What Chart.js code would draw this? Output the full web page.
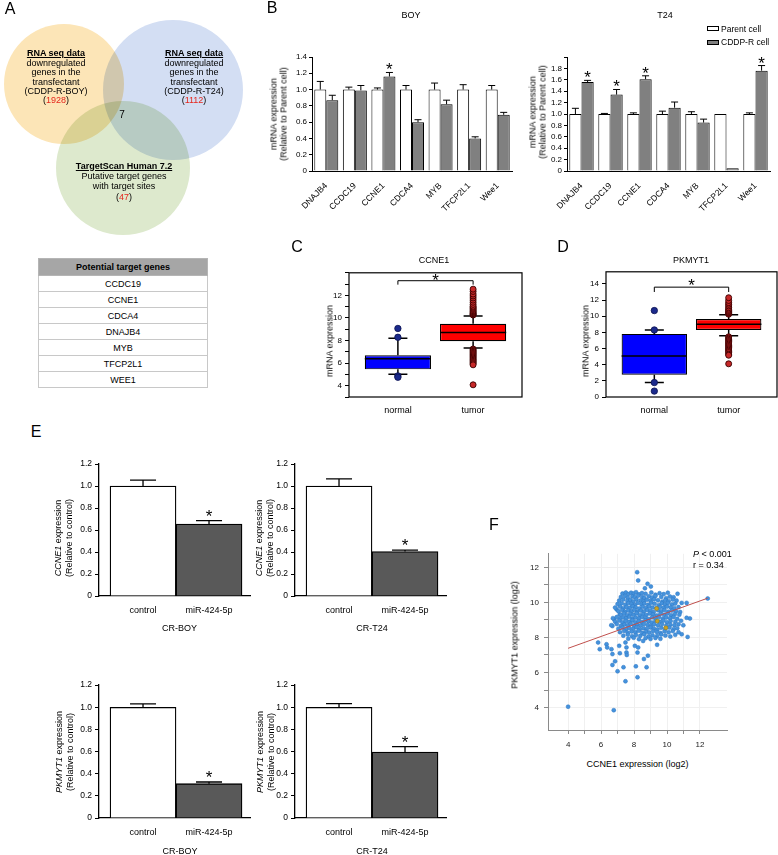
<!DOCTYPE html>
<html lang="en">
<head>
<meta charset="UTF-8" />
<title>miR-424-5p targets: CCNE1 and PKMYT1</title>
<script src="https://cdn.jsdelivr.net/npm/chart.js"></script>
<style>
  html, body { margin: 0; padding: 0; background: #fff; overflow: hidden; }
  #fig {
    position: relative; width: 778px; height: 855px; overflow: hidden;
    font-family: "Liberation Sans", Arial, sans-serif; color: #000;
  }
  #fig canvas { position: absolute; }
  .t { position: absolute; white-space: nowrap; line-height: 1; font-size: 9px; transform: translate(-50%, -50%); }
  .l { position: absolute; white-space: nowrap; line-height: 1; font-size: 9px; transform: translateY(-50%); }
  .letter { font-size: 16px; }
  .rot { text-align: center; transform: translate(-50%, -50%) rotate(-90deg); }
  .venn { position: absolute; transform: translateX(-50%); text-align: center; font-size: 9px; white-space: nowrap; }
  .venn b { text-decoration: underline; }
  .red { color: #e5261c; }
  .key { position: absolute; width: 10px; height: 3px; border: 1px solid #000; }
  #genes {
    position: absolute; left: 38px; top: 258px; width: 170px;
    border-collapse: collapse; font-size: 9px; text-align: center;
  }
  #genes th { background: #a6a6a6; height: 16px; padding: 0; border: 1px solid #b5b5b5; }
  #genes td { height: 15px; padding: 0; border: 1px solid #c8c8c8; }
</style>
</head>
<body>
<div id="fig">
  <canvas id="venn"></canvas>
  <canvas id="boy"></canvas>
  <canvas id="t24"></canvas>
  <canvas id="boxCcne1"></canvas>
  <canvas id="boxPkmyt1"></canvas>
  <canvas id="e1"></canvas>
  <canvas id="e2"></canvas>
  <canvas id="e3"></canvas>
  <canvas id="e4"></canvas>
  <canvas id="corr"></canvas>

  <div class="t letter" style="left:10px;top:8.5px">A</div>
  <div class="t letter" style="left:272px;top:8px">B</div>
  <div class="t letter" style="left:297px;top:247px">C</div>
  <div class="t letter" style="left:563px;top:247px">D</div>
  <div class="t letter" style="left:36px;top:432px">E</div>
  <div class="t letter" style="left:494px;top:525px">F</div>

  <div id="vennText"></div>
  <table id="genes"><thead><tr><th>Potential target genes</th></tr></thead><tbody></tbody></table>

  <div class="t" style="left:411px;top:14.5px">BOY</div>
  <div class="t" style="left:665px;top:14.5px">T24</div>
  <div class="t rot" style="left:279px;top:114px;line-height:9.5px">mRNA expression<br>(Relative to Parent cell)</div>
  <div class="t rot" style="left:538px;top:112px;line-height:9.5px">mRNA expression<br>(Relative to Parent cell)</div>
  <div class="key" style="left:707px;top:26px;background:#fff"></div>
  <div class="key" style="left:707px;top:40px;background:#808080"></div>
  <div class="l" style="left:721px;top:28.5px;font-size:8.5px">Parent cell</div>
  <div class="l" style="left:721px;top:42px;font-size:8.5px">CDDP-R cell</div>

  <div class="t" style="left:434px;top:259.5px">CCNE1</div>
  <div class="t" style="left:691px;top:259.5px">PKMYT1</div>
  <div class="t rot" style="left:329.5px;top:341px">mRNA expression</div>
  <div class="t rot" style="left:585.5px;top:341px">mRNA expression</div>

  <div class="t rot" style="left:63px;top:538px;line-height:10.5px"><i>CCNE1</i> expression<br>(Relative to control)</div>
  <div class="t rot" style="left:264px;top:538px;line-height:10.5px"><i>CCNE1</i> expression<br>(Relative to control)</div>
  <div class="t rot" style="left:64px;top:752px;line-height:10.5px"><i>PKMYT1</i> expression<br>(Relative to control)</div>
  <div class="t rot" style="left:265px;top:752px;line-height:10.5px"><i>PKMYT1</i> expression<br>(Relative to control)</div>
  <div class="t" style="left:179.5px;top:628.3px">CR-BOY</div>
  <div class="t" style="left:372px;top:628.3px">CR-T24</div>
  <div class="t" style="left:180px;top:851px">CR-BOY</div>
  <div class="t" style="left:372px;top:851px">CR-T24</div>

  <div class="t rot" style="left:515px;top:635px">PKMYT1 expression (log2)</div>
  <div class="t" style="left:637.5px;top:764px">CCNE1 expression (log2)</div>
  <div class="l" style="left:693px;top:554px"><i>P</i> &lt; 0.001</div>
  <div class="l" style="left:693px;top:564.5px">r = 0.34</div>
</div>

<script>
  // ---- A: Venn counts and candidate list ----
  const vennCounts = [1928, 1112, 47];
  const vennOverlap = 7;
  const targetGenes = ['CCDC19', 'CCNE1', 'CDCA4', 'DNAJB4', 'MYB', 'TFCP2L1', 'WEE1'];

  // ---- B: qRT-PCR, parent vs CDDP-resistant cells ----
  const genes = ['DNAJB4', 'CCDC19', 'CCNE1', 'CDCA4', 'MYB', 'TFCP2L1', 'Wee1'];
  const boyParent = [1.0, 1.0, 1.0, 1.0, 1.0, 1.0, 1.0];
  const boyParentErr = [0.10, 0.03, 0.02, 0.05, 0.08, 0.06, 0.05];
  const boyResistant = [0.87, 0.99, 1.16, 0.60, 0.82, 0.40, 0.69];
  const boyResistantErr = [0.06, 0.06, 0.05, 0.03, 0.05, 0.02, 0.03];
  const boySig = [false, false, true, false, false, false, false];
  const t24Parent = [1.0, 1.0, 1.0, 1.0, 1.0, 1.0, 1.0];
  const t24ParentErr = [0.10, 0.01, 0.02, 0.05, 0.04, 0, 0.02];
  const t24Resistant = [1.56, 1.34, 1.61, 1.11, 0.85, 0.05, 1.76];
  const t24ResistantErr = [0.03, 0.09, 0.06, 0.10, 0.06, 0, 0.09];
  const t24Sig = [true, true, true, false, false, false, true];

  // ---- C, D: TCGA box plots ----
  const boxGroups = ['normal', 'tumor'];
  const ccne1Q1 = [5.45, 7.94];
  const ccne1Median = [6.38, 8.72];
  const ccne1Q3 = [6.70, 9.48];
  const ccne1WhiskLow = [5.01, 7.33];
  const ccne1WhiskHigh = [8.20, 10.17];
  const ccne1OutNormal = [9.07, 8.29, 4.87, 4.75];
  const ccne1OutTumor = [10.26, 10.32, 10.38, 10.46, 10.55, 10.64, 10.75, 10.85, 10.95, 11.04, 11.20,
    11.39, 11.58, 11.77, 11.95, 12.12, 12.35, 12.55, 7.25, 7.15, 7.05, 6.95, 6.85, 6.75, 6.65, 6.55,
    6.45, 6.35, 6.25, 6.15, 6.05, 5.95, 5.85, 4.08];
  const pkmyt1Q1 = [2.77, 8.30];
  const pkmyt1Median = [5.09, 9.00];
  const pkmyt1Q3 = [7.81, 9.65];
  const pkmyt1WhiskLow = [1.79, 7.57];
  const pkmyt1WhiskHigh = [8.30, 10.17];
  const pkmyt1OutNormal = [10.70, 8.30, 1.79, 0.73];
  const pkmyt1OutTumor = [10.25, 10.35, 10.45, 10.58, 10.72, 10.87, 11.05, 11.27, 11.48, 11.68, 11.95,
    12.29, 7.45, 7.30, 7.15, 7.00, 6.85, 6.70, 6.55, 6.40, 6.25, 6.10, 5.95, 5.80, 5.65, 5.50, 5.30,
    5.17, 4.11];

  // ---- E: knockdown by miR-424-5p ----
  const treatments = ['control', 'miR-424-5p'];
  const ccne1Boy = [1.0, 0.655];
  const ccne1BoyErr = [0.055, 0.03];
  const ccne1T24 = [1.0, 0.405];
  const ccne1T24Err = [0.065, 0.012];
  const pkmyt1Boy = [1.0, 0.31];
  const pkmyt1BoyErr = [0.03, 0.015];
  const pkmyt1T24 = [1.0, 0.595];
  const pkmyt1T24Err = [0.032, 0.05];
  const knockdownSig = [false, true];

  // ---- F: CCNE1 vs PKMYT1 (log2) ----
  const fitLine = [[4.0, 7.38], [12.47, 10.24]];
  const highlighted = [[9.37, 9.65], [9.41, 8.93], [9.93, 8.55]];
  const ccne1VsPkmyt1 = [
    [4.00, 4.05], [6.77, 3.85], [7.48, 5.50], [8.21, 5.73], [7.00, 6.07], [6.69, 6.43], [6.85, 6.64],
    [7.36, 6.30], [8.11, 6.35], [8.76, 6.30], [8.60, 6.77], [8.84, 6.96], [5.82, 7.71], [5.92, 7.33],
    [6.33, 7.61], [6.37, 7.43], [6.63, 7.33], [6.69, 7.05], [7.10, 7.52], [7.14, 7.10], [7.54, 7.43],
    [7.48, 7.71], [7.54, 7.14], [7.56, 7.00], [8.05, 7.52], [8.25, 7.43], [8.21, 7.14], [8.55, 7.80],
    [9.40, 7.58], [8.19, 11.72], [8.25, 11.25], [8.82, 11.06], [9.02, 10.90], [8.66, 10.80],
    [12.47, 10.22], [11.19, 9.97], [10.89, 9.97], [11.39, 9.08], [11.19, 9.12], [11.25, 8.03],
    [10.89, 8.18], [10.99, 8.69], [10.64, 10.49], [6.69, 8.65], [6.79, 9.03], [6.94, 9.60], [7.14, 9.31],
    [7.30, 10.50], [7.50, 10.56], [7.66, 10.47], [7.82, 10.55], [7.98, 10.51], [8.12, 10.58], [8.30, 10.46],
    [8.48, 10.53], [8.70, 10.49], [9.05, 10.56], [9.30, 10.44], [9.55, 10.52], [9.80, 10.47], [10.05, 10.55],
    [7.20, 10.30], [7.45, 10.36], [7.62, 10.27], [7.90, 10.34], [8.05, 10.29], [8.25, 10.38], [8.50, 10.31],
    [8.62, 10.25], [8.90, 10.35], [9.10, 10.28], [9.30, 10.37], [9.65, 10.30], [9.95, 10.24], [10.18, 10.33],
    [10.40, 10.29],
    [7.10, 10.10], [7.35, 10.16], [7.60, 10.08], [7.78, 10.14], [7.95, 10.05], [8.15, 10.17], [8.40, 10.11],
    [8.58, 10.06], [8.78, 10.15], [9.00, 10.09], [9.22, 10.18], [9.45, 10.12], [9.72, 10.04], [9.90, 10.13],
    [10.10, 10.07], [10.35, 10.16], [10.58, 10.10],
    [7.00, 9.90], [7.25, 9.95], [7.48, 9.87], [7.66, 9.96], [7.85, 9.91], [8.05, 9.85], [8.22, 9.97],
    [8.45, 9.89], [8.62, 9.94], [8.85, 9.86], [9.05, 9.98], [9.25, 9.92], [9.50, 9.84], [9.68, 9.95],
    [9.88, 9.89], [10.05, 9.97], [10.30, 9.88], [10.50, 9.93],
    [6.85, 9.70], [7.15, 9.76], [7.35, 9.67], [7.55, 9.74], [7.75, 9.69], [7.92, 9.78], [8.10, 9.71],
    [8.32, 9.65], [8.52, 9.75], [8.72, 9.68], [8.92, 9.77], [9.12, 9.70], [9.35, 9.66], [9.58, 9.74],
    [9.80, 9.69], [10.00, 9.76], [10.22, 9.71], [10.45, 9.67], [10.70, 9.73],
    [7.05, 9.50], [7.28, 9.56], [7.45, 9.47], [7.65, 9.54], [7.85, 9.49], [8.02, 9.58], [8.20, 9.46],
    [8.42, 9.53], [8.60, 9.48], [8.80, 9.57], [9.00, 9.51], [9.20, 9.45], [9.45, 9.55], [9.65, 9.49],
    [9.85, 9.56], [10.08, 9.47], [10.30, 9.53], [10.55, 9.50], [10.80, 9.45],
    [7.20, 9.30], [7.40, 9.36], [7.58, 9.27], [7.78, 9.34], [7.98, 9.29], [8.15, 9.38], [8.35, 9.26],
    [8.55, 9.33], [8.75, 9.28], [8.95, 9.37], [9.15, 9.31], [9.38, 9.25], [9.60, 9.35], [9.82, 9.29],
    [10.02, 9.36], [10.25, 9.27], [10.48, 9.33], [10.75, 9.30],
    [6.72, 9.10], [6.95, 9.16], [7.15, 9.07], [7.35, 9.14], [7.52, 9.09], [7.72, 9.18], [7.90, 9.06],
    [8.10, 9.13], [8.30, 9.08], [8.50, 9.17], [8.70, 9.11], [8.90, 9.05], [9.10, 9.15], [9.30, 9.09],
    [9.52, 9.16], [9.75, 9.07], [9.95, 9.14], [10.18, 9.10], [10.40, 9.17], [10.62, 9.06],
    [6.85, 8.90], [7.10, 8.96], [7.30, 8.87], [7.50, 8.94], [7.70, 8.89], [7.90, 8.98], [8.08, 8.86],
    [8.28, 8.93], [8.48, 8.88], [8.68, 8.97], [8.88, 8.91], [9.08, 8.85], [9.30, 8.95], [9.55, 8.89],
    [9.78, 8.96], [10.00, 8.87], [10.22, 8.93], [10.50, 8.90], [10.85, 8.95],
    [6.62, 8.70], [6.95, 8.76], [7.20, 8.67], [7.42, 8.74], [7.62, 8.69], [7.80, 8.78], [8.00, 8.66],
    [8.20, 8.73], [8.40, 8.68], [8.60, 8.77], [8.82, 8.71], [9.02, 8.65], [9.22, 8.75], [9.45, 8.69],
    [9.70, 8.76], [9.95, 8.67], [10.20, 8.73], [10.45, 8.70], [10.70, 8.75],
    [7.05, 8.50], [7.30, 8.56], [7.52, 8.47], [7.72, 8.54], [7.95, 8.49], [8.15, 8.58], [8.35, 8.46],
    [8.58, 8.53], [8.78, 8.48], [9.00, 8.57], [9.20, 8.51], [9.42, 8.45], [9.65, 8.55], [9.90, 8.49],
    [10.15, 8.56], [10.40, 8.47], [10.62, 8.53],
    [7.15, 8.30], [7.40, 8.36], [7.62, 8.27], [7.85, 8.34], [8.08, 8.29], [8.28, 8.38], [8.50, 8.26],
    [8.72, 8.33], [8.92, 8.28], [9.15, 8.37], [9.38, 8.31], [9.60, 8.25], [9.85, 8.35], [10.10, 8.29],
    [10.35, 8.36], [10.70, 8.30],
    [7.35, 8.10], [7.62, 8.16], [7.88, 8.07], [8.12, 8.14], [8.38, 8.09], [8.62, 8.18], [8.88, 8.06],
    [9.12, 8.13], [9.40, 8.08], [9.65, 8.17], [9.90, 8.11], [10.20, 8.05], [10.50, 8.15],
    [7.65, 7.93], [7.98, 7.98], [8.30, 7.90], [8.70, 7.96], [9.00, 7.91], [9.30, 7.97], [9.60, 7.92]
  ];

  Chart.defaults.font.family = '"Liberation Sans", Arial, sans-serif';
  Chart.defaults.font.size = 8;
  Chart.defaults.color = '#000';
  Chart.defaults.plugins.legend.display = false;
  Chart.defaults.plugins.tooltip.enabled = false;

  const dec1 = v => (Math.abs(v) < 1e-9 ? '0' : v.toFixed(1));
  const evenLabel = (lo, hi) => v => (v % 2 === 0 && v >= lo && v <= hi ? String(v) : '');
  const wholeTicks = s => { s.ticks = s.ticks.filter(t => Math.abs(t.value - Math.round(t.value)) < 1e-9); };

  // size a canvas so its chart area lands on area = [x0, y0, x1, y1]; m = margins [l, t, r, b]
  function place(id, area, m) {
    const c = document.getElementById(id);
    c.width = area[2] - area[0] + m[0] + m[2];
    c.height = area[3] - area[1] + m[1] + m[3];
    c.style.left = (area[0] - m[0]) + 'px';
    c.style.top = (area[1] - m[1]) + 'px';
    return { pad: { left: 0, top: m[1], right: m[2], bottom: 0 }, yW: m[0], xH: m[3] };
  }

  function base(g) {
    return { responsive: false, animation: false, events: [], layout: { padding: g.pad, autoPadding: false } };
  }

  const errorBars = {
    id: 'errorBars',
    afterDatasetsDraw(chart, args, opts) {
      const { ctx, scales: { y } } = chart;
      ctx.save();
      ctx.strokeStyle = '#000';
      ctx.fillStyle = '#000';
      ctx.lineWidth = opts.width;
      ctx.font = '17px "Liberation Sans", Arial, sans-serif';
      ctx.textAlign = 'center';
      chart.data.datasets.forEach((ds, i) => {
        chart.getDatasetMeta(i).data.forEach((bar, j) => {
          const d = ds.data[j];
          const v = typeof d === 'object' ? d.y : d;
          const err = ds.errors[j];
          const top = y.getPixelForValue(v + err);
          if (err > 0) {
            ctx.beginPath();
            ctx.moveTo(bar.x, bar.y);
            ctx.lineTo(bar.x, top);
            ctx.moveTo(bar.x - opts.cap / 2, top);
            ctx.lineTo(bar.x + opts.cap / 2, top);
            ctx.stroke();
          }
          if (ds.stars && ds.stars[j]) ctx.fillText('*', bar.x, top + opts.starOffset);
        });
      });
      ctx.restore();
    }
  };

  const boxParts = {
    id: 'boxParts',
    afterDatasetDraw(chart, args, opts) {
      const ds = chart.data.datasets[args.index];
      if (!ds.medians) return;
      const { ctx, scales: { y } } = chart;
      ctx.save();
      ctx.strokeStyle = '#000';
      ctx.lineWidth = 1.5;
      ctx.beginPath();
      args.meta.data.forEach((bar, j) => {
        const half = bar.width / 2;
        const ym = y.getPixelForValue(ds.medians[j]);
        ctx.moveTo(bar.x - half, ym); ctx.lineTo(bar.x + half, ym);
        const yq3 = y.getPixelForValue(ds.data[j].y[1]);
        const yq1 = y.getPixelForValue(ds.data[j].y[0]);
        const yHi = y.getPixelForValue(ds.whiskHigh[j]);
        const yLo = y.getPixelForValue(ds.whiskLow[j]);
        ctx.moveTo(bar.x, yq3); ctx.lineTo(bar.x, yHi);
        ctx.moveTo(bar.x - opts.cap / 2, yHi); ctx.lineTo(bar.x + opts.cap / 2, yHi);
        ctx.moveTo(bar.x, yq1); ctx.lineTo(bar.x, yLo);
        ctx.moveTo(bar.x - opts.cap / 2, yLo); ctx.lineTo(bar.x + opts.cap / 2, yLo);
      });
      ctx.stroke();
      ctx.restore();
    },
    afterDraw(chart, args, opts) {
      const { ctx, chartArea: a, scales: { x, y } } = chart;
      ctx.save();
      ctx.strokeStyle = '#000';
      ctx.lineWidth = 1.2;
      ctx.strokeRect(a.left, a.top, a.right - a.left, a.bottom - a.top);
      const x0 = x.getPixelForValue(0), x1 = x.getPixelForValue(1);
      const yb = y.getPixelForValue(opts.bracket), yd = y.getPixelForValue(opts.bracket - opts.drop);
      ctx.lineWidth = 1;
      ctx.beginPath();
      ctx.moveTo(x0, yd); ctx.lineTo(x0, yb); ctx.lineTo(x1, yb); ctx.lineTo(x1, yd);
      ctx.stroke();
      ctx.fillStyle = '#000';
      ctx.font = '17px "Liberation Sans", Arial, sans-serif';
      ctx.textAlign = 'center';
      ctx.fillText('*', (x0 + x1) / 2, yb + opts.starOffset);
      ctx.restore();
    }
  };

  const multiplyBlend = {
    id: 'multiplyBlend',
    beforeDatasetsDraw(chart) { chart.ctx.save(); chart.ctx.globalCompositeOperation = 'multiply'; },
    afterDatasetsDraw(chart) { chart.ctx.restore(); }
  };

  function renderVenn() {
    const c = document.getElementById('venn');
    c.width = 250; c.height = 240;
    c.style.left = '0px'; c.style.top = '0px';
    new Chart(c, {
      type: 'bubble',
      data: {
        datasets: [{
          data: [{ x: 64, y: 84, r: 60 }, { x: 173, y: 90, r: 70 }, { x: 123, y: 168, r: 67 }],
          backgroundColor: ['#fce5b7', '#d3def3', '#dde9cd'],
          borderWidth: 0,
          clip: false
        }]
      },
      options: {
        responsive: false, animation: false, events: [],
        layout: { padding: 0, autoPadding: false },
        scales: {
          x: { display: false, min: 0, max: 250 },
          y: { display: false, min: 0, max: 240, reverse: true }
        }
      },
      plugins: [multiplyBlend]
    });

    const labels = ['CDDP-R-BOY', 'CDDP-R-T24'];
    document.getElementById('vennText').innerHTML =
      [56, 194].map((cx, i) =>
        `<div class="venn" style="left:${cx}px;top:49.3px;line-height:9.4px"><b>RNA seq data</b><br>downregulated<br>` +
        `genes in the<br>transfectant<br>(${labels[i]})<br>(<span class="red">${vennCounts[i]}</span>)</div>`).join('') +
      `<div class="venn" style="left:124px;top:160.5px;line-height:10.4px"><b>TargetScan Human 7.2</b><br>` +
      `Putative target genes<br>with target sites<br>(<span class="red">${vennCounts[2]}</span>)</div>` +
      `<div class="t" style="left:122px;top:115px;font-size:10px">${vennOverlap}</div>`;

    document.querySelector('#genes tbody').innerHTML =
      targetGenes.map(g => `<tr><td>${g}</td></tr>`).join('');
  }

  function qpcrChart(id, area, parent, parentErr, resist, resistErr, sig, yMax) {
    const g = place(id, area, [45, 17, 5, 69]);
    new Chart(document.getElementById(id), {
      type: 'bar',
      data: {
        labels: genes,
        datasets: [
          { label: 'Parent cell', data: parent, errors: parentErr, backgroundColor: '#ffffff',
            borderColor: '#000', borderWidth: 1, categoryPercentage: 0.84, barPercentage: 1 },
          { label: 'CDDP-R cell', data: resist, errors: resistErr, stars: sig, backgroundColor: '#808080',
            borderColor: '#000', borderWidth: 1, categoryPercentage: 0.84, barPercentage: 1 }
        ]
      },
      options: {
        ...base(g),
        plugins: { errorBars: { cap: 7, width: 1, starOffset: 3 } },
        scales: {
          x: {
            afterFit: s => { s.height = g.xH; },
            grid: { display: false },
            border: { color: '#000' },
            ticks: { autoSkip: false, minRotation: 45, maxRotation: 45, padding: 2, font: { size: 8.5 } }
          },
          y: {
            min: 0, max: yMax,
            afterFit: s => { s.width = g.yW; },
            grid: { drawOnChartArea: false, tickLength: 3, color: '#000' },
            border: { color: '#000' },
            ticks: { autoSkip: false, stepSize: 0.2, padding: 2, callback: v => (v > 1.9 ? '' : dec1(v)) }
          }
        }
      },
      plugins: [errorBars]
    });
  }

  function boxChart(id, area, q1, med, q3, wLo, wHi, outN, outT, yOpts, bracket) {
    const g = place(id, area, [40, 6, area[2] > 770 ? 1 : 6, 26]);
    new Chart(document.getElementById(id), {
      type: 'bar',
      data: {
        datasets: [
          { type: 'scatter', data: outN.map(v => ({ x: 0, y: v })), pointRadius: 3.2,
            backgroundColor: '#1b2a8c', borderColor: '#0b1250', borderWidth: 0.8 },
          { type: 'scatter', data: outT.map(v => ({ x: 1, y: v })), pointRadius: 3,
            backgroundColor: '#c62828', borderColor: '#3a0000', borderWidth: 0.9 },
          { type: 'bar', data: boxGroups.map((k, i) => ({ x: i, y: [q1[i], q3[i]] })),
            medians: med, whiskLow: wLo, whiskHigh: wHi,
            backgroundColor: ['#0000ff', '#ff0000'], borderColor: '#000', borderWidth: 1.2,
            borderSkipped: false, categoryPercentage: 1, barPercentage: 0.88 }
        ]
      },
      options: {
        ...base(g),
        plugins: { boxParts: { cap: 19, bracket: bracket.at, drop: bracket.drop, starOffset: bracket.star } },
        scales: {
          x: {
            type: 'linear', min: -0.65, max: 1.65, offset: false,
            afterFit: s => { s.height = g.xH; },
            afterBuildTicks: s => { s.ticks = boxGroups.map((k, i) => ({ value: i })); },
            grid: { display: false, drawTicks: false, offset: false },
            border: { display: false },
            ticks: { callback: v => boxGroups[v], padding: 8.5, font: { size: 9 } }
          },
          y: {
            min: yOpts.min, max: yOpts.max,
            afterFit: s => { s.width = g.yW; },
            afterBuildTicks: wholeTicks,
            grid: { drawOnChartArea: false, tickLength: 4, color: '#000' },
            border: { display: false },
            ticks: { autoSkip: false, stepSize: yOpts.step, padding: 3, callback: yOpts.label }
          }
        }
      },
      plugins: [boxParts]
    });
  }

  function knockdownChart(id, area, values, errs) {
    const g = place(id, area, [40, 8, 10, 28]);
    new Chart(document.getElementById(id), {
      type: 'bar',
      data: {
        datasets: [{
          data: values.map((v, i) => ({ x: i, y: v })), errors: errs, stars: knockdownSig,
          backgroundColor: ['#ffffff', '#595959'], borderColor: '#000', borderWidth: 1.3,
          categoryPercentage: 1, barPercentage: 1
        }]
      },
      options: {
        ...base(g),
        plugins: { errorBars: { cap: 26, width: 1.3, starOffset: 1 } },
        scales: {
          x: {
            type: 'linear', min: -0.667, max: 1.621, offset: false,
            afterFit: s => { s.height = g.xH; },
            afterBuildTicks: s => { s.ticks = treatments.map((t, i) => ({ value: i })); },
            grid: { display: false, drawTicks: false, offset: false },
            border: { color: '#000', width: 1.3 },
            ticks: { callback: v => treatments[v], padding: 9.5, font: { size: 9 } }
          },
          y: {
            min: 0, max: 1.2,
            afterFit: s => { s.width = g.yW; },
            grid: { drawOnChartArea: false, tickLength: 4, color: '#000' },
            border: { color: '#000', width: 1.3 },
            ticks: { autoSkip: false, stepSize: 0.2, padding: 3, font: { size: 8.5 }, callback: dec1 }
          }
        }
      },
      plugins: [errorBars]
    });
  }

  function renderCorrelation() {
    const g = place('corr', [548, 552, 727, 730], [35, 8, 10, 26]);
    new Chart(document.getElementById('corr'), {
      type: 'scatter',
      data: {
        datasets: [
          { type: 'line', data: fitLine, borderColor: '#c0504d', borderWidth: 1, pointRadius: 0 },
          { data: highlighted, pointRadius: 2, backgroundColor: '#c9a227', borderColor: '#9a7a10', borderWidth: 0.5 },
          { data: ccne1VsPkmyt1, pointRadius: 2, backgroundColor: '#4592dc', borderColor: '#2f78c4', borderWidth: 0.5 }
        ]
      },
      options: {
        ...base(g),
        scales: {
          x: {
            type: 'linear', min: 2.78, max: 13.64,
            afterFit: s => { s.height = g.xH; },
            afterBuildTicks: wholeTicks,
            grid: { color: '#f0f0f0', tickColor: '#8a8a8a', tickLength: 4 },
            border: { color: '#8a8a8a' },
            ticks: { autoSkip: false, stepSize: 1, padding: 6, color: '#222', callback: evenLabel(4, 12) }
          },
          y: {
            min: 2.72, max: 12.77,
            afterFit: s => { s.width = g.yW; },
            afterBuildTicks: wholeTicks,
            grid: { color: '#f0f0f0', tickColor: '#8a8a8a', tickLength: 4 },
            border: { color: '#8a8a8a' },
            ticks: { autoSkip: false, stepSize: 1, padding: 5, color: '#222', callback: evenLabel(4, 12) }
          }
        }
      }
    });
  }

  renderVenn();
  qpcrChart('boy', [312, 57, 512, 171], boyParent, boyParentErr, boyResistant, boyResistantErr, boySig, 1.4);
  qpcrChart('t24', [567, 57, 770, 171], t24Parent, t24ParentErr, t24Resistant, t24ResistantErr, t24Sig, 2.0);
  boxChart('boxCcne1', [349, 271, 522, 397], ccne1Q1, ccne1Median, ccne1Q3, ccne1WhiskLow, ccne1WhiskHigh,
    ccne1OutNormal, ccne1OutTumor, { min: 3, max: 14, step: 1, label: evenLabel(4, 12) },
    { at: 13.3, drop: 0.35, star: 5.5 });
  boxChart('boxPkmyt1', [606, 270, 777, 397], pkmyt1Q1, pkmyt1Median, pkmyt1Q3, pkmyt1WhiskLow, pkmyt1WhiskHigh,
    pkmyt1OutNormal, pkmyt1OutTumor, { min: 0, max: 15.5, step: 2, label: v => String(v) },
    { at: 13.6, drop: 0.6, star: 4 });
  knockdownChart('e1', [99, 464, 250, 596], ccne1Boy, ccne1BoyErr);
  knockdownChart('e2', [295, 464, 446, 596], ccne1T24, ccne1T24Err);
  knockdownChart('e3', [99, 685, 250, 818], pkmyt1Boy, pkmyt1BoyErr);
  knockdownChart('e4', [295, 685, 446, 818], pkmyt1T24, pkmyt1T24Err);
  renderCorrelation();
</script>
</body>
</html>
